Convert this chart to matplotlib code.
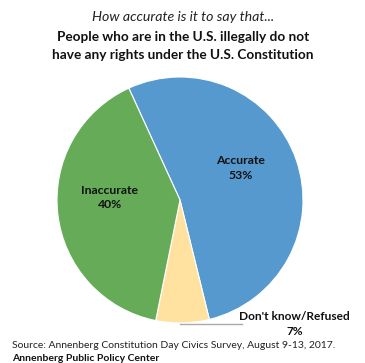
import matplotlib
matplotlib.use("agg")
import matplotlib.pyplot as plt

labels = ["Accurate", "Don't know/Refused", "Inaccurate"]
values = [53, 7, 40]
colors = ["#5599CF", "#FFE2A0", "#66AB57"]

plt.rcParams["font.family"] = ["Lato", "DejaVu Sans"]

fig = plt.figure(figsize=(3.65, 3.63), dpi=100)

fig.text(0.502, 0.953, "How accurate is it to say that...", ha="center", va="center",
         fontsize=10.2, style="italic", color="#222222")
fig.text(0.502, 0.898, "People who are in the U.S. illegally do not", ha="center", va="center",
         fontsize=9.8, weight="bold", color="#111111")
fig.text(0.502, 0.848, "have any rights under the U.S. Constitution", ha="center", va="center",
         fontsize=9.8, weight="bold", color="#111111")

ax = fig.add_axes([57 / 365, 40 / 363, 246 / 365, 246 / 363])
wedges, _ = ax.pie(values, colors=colors, startangle=114.6, counterclock=False,
                   wedgeprops={"edgecolor": "white", "linewidth": 0.8})
ax.set_xlim(-1, 1)
ax.set_ylim(-1, 1)
ax.set_aspect("equal")
ax.axis("off")

ax.text(0.49, 0.26, f"{labels[0]}\n{values[0]}%", ha="center", va="center",
        fontsize=8.8, weight="bold", color="#111111", linespacing=1.35)
ax.text(-0.57, 0.02, f"{labels[2]}\n{values[2]}%", ha="center", va="center",
        fontsize=8.8, weight="bold", color="#111111", linespacing=1.35)
ax.text(0.93, -1.01, f"{labels[1]}\n{values[1]}%", ha="center", va="center",
        fontsize=8.6, weight="bold", color="#111111", linespacing=1.4, clip_on=False)
ax.plot([0.0, 0.5], [-1.01, -1.01], color="#AAAAAA", linewidth=1, clip_on=False)

fig.text(0.033, 0.047, "Source: Annenberg Constitution Day Civics Survey, August 9-13, 2017.",
         ha="left", va="center", fontsize=7.5, color="#222222")
fig.text(0.033, 0.013, "Annenberg Public Policy Center", ha="left", va="center",
         fontsize=7.5, weight="bold", color="#111111")

fig.savefig("out.png", dpi=100)
